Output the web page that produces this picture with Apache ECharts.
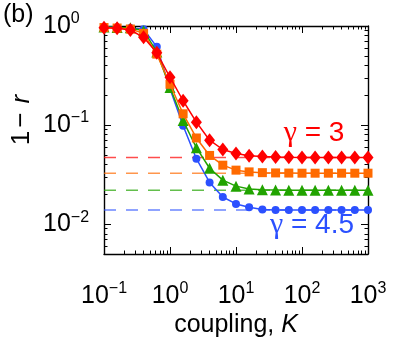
<!DOCTYPE html>
<html><head><meta charset="utf-8">
<script src="https://cdn.jsdelivr.net/npm/echarts@6/dist/echarts.min.js"></script>
<style>html,body{margin:0;padding:0;background:#fff}#c{width:407px;height:344px}</style>
</head><body><div id="c"></div>
<script>
// coupling K (x values)
const couplingK = [0.1, 0.158, 0.251, 0.398, 0.631, 1, 1.58, 2.51, 3.98, 6.31, 10, 15.8, 25.1, 39.8, 63.1, 100, 158, 251, 398, 631, 1000];
// 1 - r for each gamma
const gamma3   = [0.961, 0.948, 0.911, 0.768, 0.536, 0.304, 0.176, 0.107, 0.0704, 0.0567, 0.0516, 0.0490, 0.0482, 0.0476, 0.0473, 0.0472, 0.0471, 0.0471, 0.0471, 0.0471, 0.0471];
const gammaB   = [0.965, 0.954, 0.932, 0.843, 0.520, 0.258, 0.130, 0.0741, 0.0494, 0.0394, 0.0351, 0.0337, 0.0331, 0.0329, 0.0328, 0.0327, 0.0327, 0.0327, 0.0327, 0.0327, 0.0327];
const gammaC   = [0.977, 0.965, 0.960, 0.896, 0.548, 0.239, 0.111, 0.0591, 0.0367, 0.0278, 0.0242, 0.0226, 0.0222, 0.0221, 0.0220, 0.0220, 0.0220, 0.0220, 0.0220, 0.0220, 0.0220];
const gamma45  = [0.977, 0.965, 0.954, 0.926, 0.616, 0.233, 0.0983, 0.0458, 0.0264, 0.0188, 0.0160, 0.0148, 0.0141, 0.0139, 0.0139, 0.0139, 0.0139, 0.0139, 0.0139, 0.0139, 0.0139];
// asymptotic values (dashed lines)
const asymptotes = [0.0471, 0.0327, 0.0220, 0.0139];
// axis ranges and ticks
const xRange = [0.1, 1000];
const yRange = [0.005, 1];
const xMajor = [0.1, 1, 10, 100, 1000];
const yMajor = [0.01, 0.1, 1];

const L = Math.log10;
const FONT = 'Liberation Sans, Arial, sans-serif';
const SERIF = 'Liberation Serif, DejaVu Serif, serif';
const colors = ['#ff0000', '#ff6a00', '#21a300', '#2b50ff'];
const symbols = ['diamond', 'rect', 'triangle', 'circle'];
const sizes = [[11, 14], 9, 11, 8];
const seriesVals = [gamma3, gammaB, gammaC, gamma45];

function minorList(r) {
  const out = [];
  for (let e = Math.floor(L(r[0])); e < Math.ceil(L(r[1])); e++) {
    for (let m = 1; m <= 9; m++) {
      const v = m * Math.pow(10, e);
      if (v >= r[0] - 1e-12 && v <= r[1] + 1e-9) out.push(L(v));
    }
  }
  return out;
}
const xMinor = minorList(xRange), yMinor = minorList(yRange);
const xMaj = xMajor.map(L), yMaj = yMajor.map(L);

const rich = {
  b: {fontSize: 25, fontFamily: FONT, color: '#000', lineHeight: 30},
  s: {fontSize: 16, fontFamily: FONT, color: '#000', verticalAlign: 'top', lineHeight: 16}
};
function supFmt(v) {
  const e = Math.round(v);
  const es = e < 0 ? '\u2212' + (-e) : '' + e;
  return '{b|10}{s|' + es + '}';
}
const lineCol = '#000';
function axisSet(kind, pos, vals, len, showLine, label) {
  const isX = kind === 'x';
  const r = isX ? xRange : yRange;
  let lab = {show: false};
  if (label) {
    lab = isX
      ? {show: true, customValues: vals, formatter: supFmt, rich: rich, margin: 27}
      : {show: true, customValues: vals, formatter: supFmt, rich: rich, margin: 61, align: 'left'};
  }
  return {
    type: 'value', position: pos, min: L(r[0]), max: L(r[1]),
    axisLine: {show: showLine, onZero: false, lineStyle: {color: lineCol, width: 1.4}},
    axisTick: {show: true, inside: true, length: len, customValues: vals, lineStyle: {color: lineCol, width: 1}},
    axisLabel: lab,
    splitLine: {show: false}
  };
}

const series = [];
asymptotes.forEach((a, i) => {
  series.push({
    type: 'line', xAxisIndex: 0, yAxisIndex: 0, silent: true, symbol: 'none', z: 1,
    data: [[L(xRange[0]), L(a)], [L(xRange[1]), L(a)]],
    lineStyle: {color: colors[i], width: 1.4, type: [12, 10], opacity: 0.7}
  });
});
for (let i = 3; i >= 0; i--) {
  series.push({
    type: 'line', xAxisIndex: 0, yAxisIndex: 0, z: 5 + (3 - i),
    symbol: symbols[i], symbolSize: sizes[i], showSymbol: true,
    data: couplingK.map((k, j) => [L(k), L(seriesVals[i][j])]),
    itemStyle: {color: colors[i]},
    lineStyle: {color: colors[i], width: 1.5}
  });
}

const chart = echarts.init(document.getElementById('c'), null, {renderer: 'canvas'});
chart.setOption({
  animation: false,
  backgroundColor: '#fff',
  grid: {left: 104, right: 39, top: 26, bottom: 90, containLabel: false},
  xAxis: [
    axisSet('x', 'bottom', xMaj, 7, true, true),
    axisSet('x', 'bottom', xMinor, 3.5, false, false),
    axisSet('x', 'top', xMaj, 7, true, false),
    axisSet('x', 'top', xMinor, 3.5, false, false)
  ],
  yAxis: [
    axisSet('y', 'left', yMaj, 7, true, true),
    axisSet('y', 'left', yMinor, 3.5, false, false),
    axisSet('y', 'right', yMaj, 7, true, false),
    axisSet('y', 'right', yMinor, 3.5, false, false)
  ],
  series: series,
  graphic: [
    {type: 'text', left: 3, top: 3, style: {text: '(b)', font: '25px ' + FONT, fill: '#000'}},
    {type: 'text', x: 22, y: 120, rotation: Math.PI / 2,
     style: {text: '{n|1}{m|\u2212}{i|r}', align: 'center', verticalAlign: 'middle',
       rich: {n: {fontSize: 26, fontFamily: FONT, fill: '#000'},
              m: {fontSize: 26, fontFamily: FONT, fill: '#000', padding: [0, 9, 0, 3]},
              i: {fontSize: 26, fontFamily: FONT, fontStyle: 'italic', fill: '#000'}}}},
    {type: 'text', x: 236, y: 325,
     style: {text: '{n|coupling, }{i|K}', align: 'center', verticalAlign: 'middle',
       rich: {n: {fontSize: 25, fontFamily: FONT, fill: '#000'}, i: {fontSize: 25, fontFamily: FONT, fontStyle: 'italic', fill: '#000'}}}},
    {type: 'text', x: 314, y: 133,
     style: {text: '{g|\u03b3}{t| = 3}', align: 'center', verticalAlign: 'middle',
       rich: {g: {fontSize: 30, fontFamily: SERIF, fill: colors[0]}, t: {fontSize: 28, fontFamily: FONT, fill: colors[0]}}}},
    {type: 'text', x: 312, y: 225,
     style: {text: '{g|\u03b3}{t| = 4.5}', align: 'center', verticalAlign: 'middle',
       rich: {g: {fontSize: 30, fontFamily: SERIF, fill: colors[3]}, t: {fontSize: 28, fontFamily: FONT, fill: colors[3]}}}}
  ]
});
</script></body></html>
